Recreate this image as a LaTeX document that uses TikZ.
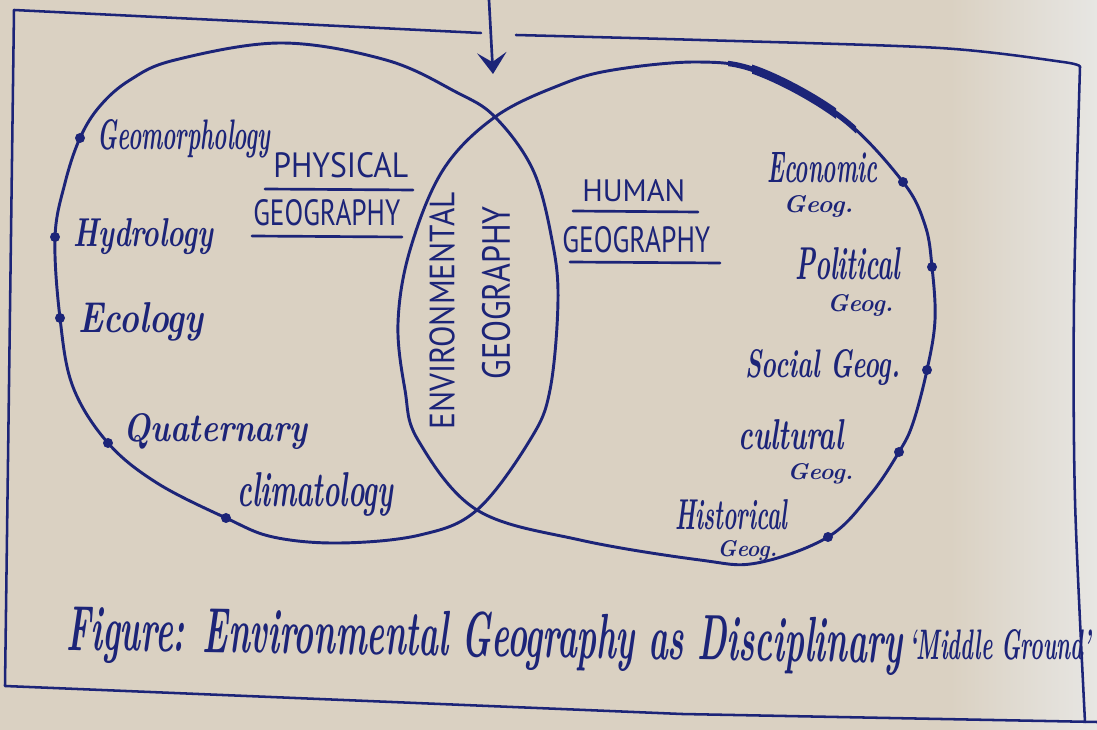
\documentclass[tikz,border=0pt]{standalone}
\usepackage{fontspec}
\usepackage{graphicx}
\usetikzlibrary{arrows.meta}
\newfontfamily\capsf{PT Sans}
\newlength\pxu \setlength\pxu{0.75pt}
\definecolor{ink}{RGB}{28,36,120}
\definecolor{paper}{RGB}{218,209,194}
\definecolor{paperlight}{RGB}{231,230,227}
\newcommand{\cw}[3]{\resizebox{#1\pxu}{#2\pxu}{\bfseries\itshape #3}}
\newcommand{\cc}[3]{\resizebox{#1\pxu}{#2\pxu}{\capsf #3}}
\begin{document}
\begin{tikzpicture}[x=0.75pt,y=-0.75pt,
 inkline/.style={draw=ink,line width=2.2pt,line join=round,line cap=round},
 frameline/.style={draw=ink,line width=1.9pt,line join=round,line cap=round},
 hand/.style={text=ink,inner sep=0pt,anchor=base west},
 capslbl/.style={text=ink,inner sep=0pt,anchor=base west},
 rcaps/.style={text=ink,inner sep=0pt,rotate=90},
 spot/.style={circle,fill=ink,inner sep=0pt,minimum size=7.5pt},
 uline/.style={draw=ink,line width=2pt,line cap=round}]
\useasboundingbox (0,0) rectangle (1097,730);
\fill[paper] (0,0) rectangle (1097,730);
\shade[left color=paper,right color=paperlight] (950,0) rectangle (1097,730);

% frame
\draw[frameline] (481,33) -- (14,10) -- (5,686) -- (682,714) -- (1097,722);
\draw[frameline] plot[smooth,tension=0.5] coordinates {(516,35) (700,40) (940,48) (1063,62) (1080,67)};
\draw[frameline] plot[smooth,tension=0.5] coordinates {(1080,67) (1074,300) (1075,500) (1085,722)};

% arrow
\coordinate (arrtop) at (489,0);
\coordinate (arrtip) at (493,74);
\draw[ink,line width=2pt,-{Stealth[length=16pt,width=22pt,inset=7pt]}] (arrtop) -- (arrtip);

% left ellipse (physical)
\draw[inkline] plot[smooth cycle,tension=0.6] coordinates {
 (281,43) (386,60) (456,92) (495,117) (533,170) (552,240) (558,300) (550,390)
 (530,440) (477,510) (420,535) (340,543) (273,537) (226,518) (157,483) (108,443)
 (73,387) (60,318) (55,237) (65,183) (80,138) (100,106) (130,80) (175,60)};

% right ellipse (human)
\draw[inkline] plot[smooth cycle,tension=0.6] coordinates {
 (698,62) (760,72) (842,118) (903,182) (925,225) (932,267) (935,320) (927,370)
 (913,423) (899,452) (870,495) (828,537) (757,563) (700,560) (580,540) (477,510)
 (418,440) (405,390) (398,323) (410,250) (443,170) (495,117) (560,85) (613,70)};
% thick stretch at the top of the right ellipse
\begin{scope}
\clip (728,40) rectangle (856,135);
\draw[ink,line width=4pt] plot[smooth cycle,tension=0.6] coordinates {
 (698,62) (760,72) (842,118) (903,182) (925,225) (932,267) (935,320) (927,370)
 (913,423) (899,452) (870,495) (828,537) (757,563) (700,560) (580,540) (477,510)
 (418,440) (405,390) (398,323) (410,250) (443,170) (495,117) (560,85) (613,70)};
\end{scope}
\begin{scope}
\clip (752,40) rectangle (836,135);
\draw[ink,line width=6.5pt] plot[smooth cycle,tension=0.6] coordinates {
 (698,62) (760,72) (842,118) (903,182) (925,225) (932,267) (935,320) (927,370)
 (913,423) (899,452) (870,495) (828,537) (757,563) (700,560) (580,540) (477,510)
 (418,440) (405,390) (398,323) (410,250) (443,170) (495,117) (560,85) (613,70)};
\end{scope}

% dots
\node[spot] (d1) at (80,138) {};
\node[spot] (d2) at (55,237) {};
\node[spot] (d3) at (60,318) {};
\node[spot] (d4) at (108,443) {};
\node[spot] (d5) at (226,518) {};
\node[spot] (d6) at (903,182) {};
\node[spot] (d7) at (932,267) {};
\node[spot] (d8) at (927,370) {};
\node[spot] (d9) at (899,452) {};
\node[spot] (d10) at (828,537) {};

% physical labels
\node[hand] (geomorph) at (97,150) {\cw{173}{30}{Geomorphology}};
\node[hand] (hydro) at (73,247) {\cw{140}{28}{Hydrology}};
\node[hand] (eco) at (78,333) {\cw{125}{30}{Ecology}};
\node[hand] (quat) at (123,442) {\cw{184}{28}{Quaternary}};
\node[hand] (clim) at (237,507) {\cw{156}{34}{climatology}};

% human labels
\node[hand] (econ) at (767,183) {\cw{110}{30}{Economic}};
\node[hand] (econg) at (783,213) {\cw{70}{17}{Geog.}};
\node[hand] (pol) at (795,280) {\cw{105}{32}{Political}};
\node[hand] (polg) at (827,312) {\cw{66}{17}{Geog.}};
\node[hand] (soc) at (745,378) {\cw{155}{28}{Social Geog.}};
\node[hand] (cult) at (738,450) {\cw{105}{30}{cultural}};
\node[hand] (cultg) at (787,480) {\cw{66}{16}{Geog.}};
\node[hand] (hist) at (675,530) {\cw{112}{30}{Historical}};
\node[hand] (histg) at (717,557) {\cw{60}{16}{Geog.}};

% headings
\node[capslbl] (phys1) at (273,178) {\cc{135}{25}{PHYSICAL}};
\node[capslbl] (phys2) at (253,226) {\cc{147}{26}{GEOGRAPHY}};
\node[capslbl] (hum1) at (582,202) {\cc{103}{22}{HUMAN}};
\node[capslbl] (hum2) at (562,253) {\cc{148}{26}{GEOGRAPHY}};
\draw[uline] (265,189) -- (413,190);
\draw[uline] (252,236) -- (402,237);
\draw[uline] (573,211) -- (698,212);
\draw[uline] (570,262) -- (720,263);

% environmental
\node[rcaps] (env1) at (442,311) {\cc{237}{25}{ENVIRONMENTAL}};
\node[rcaps] (env2) at (496,293) {\cc{173}{28}{GEOGRAPHY}};

% caption
\node[hand,rotate=-0.9] (cap1) at (66,650) {\cw{836}{45}{Figure: Environmental Geography as Disciplinary}};
\node[hand] (cap2) at (909,660) {\cw{182}{30}{‘Middle Ground’}};
\end{tikzpicture}
\end{document}
